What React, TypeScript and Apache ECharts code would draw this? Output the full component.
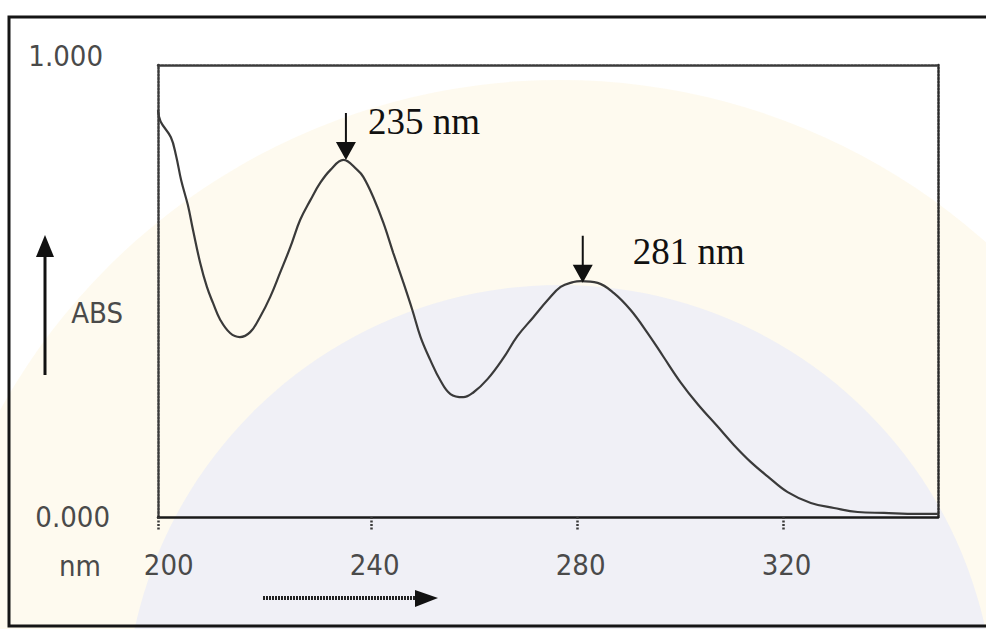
import React, { useEffect, useRef } from "react";
import * as echarts from "echarts";

// Wavelength (nm) and absorbance
const wavelengths = [198.5, 199, 201, 202, 203, 204.3, 205.3, 206.7, 208, 209.2, 210.6, 212.5, 214.4, 216.4, 218.3, 220.3, 222.2, 224.2, 226.1, 228.1, 230, 232, 234.5, 237.2, 238.4, 240.3, 242.3, 244.2, 246, 247.9, 249.5, 251.4, 253.3, 255.3, 257.8, 259.8, 262.5, 265.6, 268.3, 271.4, 274.2, 276.7, 279.2, 280.6, 283.9, 287, 290.3, 293.6, 296.7, 300, 303.3, 307.2, 310.3, 313.6, 316.9, 320.8, 325.3, 329.8, 334.4, 339.5, 346.1, 350];
const absorbance = [0.9, 0.875, 0.84, 0.8, 0.745, 0.69, 0.635, 0.562, 0.509, 0.473, 0.436, 0.407, 0.398, 0.409, 0.442, 0.487, 0.54, 0.597, 0.657, 0.701, 0.739, 0.768, 0.79, 0.768, 0.752, 0.708, 0.65, 0.584, 0.524, 0.458, 0.398, 0.347, 0.303, 0.272, 0.265, 0.276, 0.305, 0.352, 0.4, 0.442, 0.48, 0.509, 0.52, 0.522, 0.518, 0.496, 0.458, 0.407, 0.354, 0.298, 0.25, 0.2, 0.16, 0.122, 0.09, 0.055, 0.031, 0.02, 0.011, 0.009, 0.007, 0.007];

const peakNm = [235, 281];
const peakAbs = [0.79, 0.518];
const peakLabels = ["235 nm", "281 nm"];

const xTickLabels = [200, 240, 280, 320];
const xTickMarks = [198.5, 240, 280, 320];
const yTickLabels = [0, 1];

const PIXEL_FONT = "'Liberation Sans Narrow', 'DejaVu Sans Condensed', 'DejaVu Sans Mono', monospace";
const ARROW = "path://M9,0L11,0L11,29L20,29L10,47L0,29L9,29Z";

export default function App() {
  const ref = useRef<HTMLDivElement>(null);

  useEffect(() => {
    if (!ref.current) return;
    const chart = echarts.init(ref.current, undefined, { renderer: "svg" });
    const points = wavelengths.map((w, i) => [w, absorbance[i]]);
    const dotted = { color: "#3a3a3a", width: 2.5, type: [2, 1.5] as any };
    const labelFont = { fontFamily: PIXEL_FONT, fontSize: 29, color: "#4a4a4a" };

    const option: any = {
      animation: false,
      backgroundColor: "#ffffff",
      grid: { left: 158, top: 65, right: 48, bottom: 112, containLabel: false, outerBoundsMode: "none" },
      xAxis: [
        {
          type: "value",
          min: 198.5,
          max: 350,
          splitLine: { show: false },
          axisLine: { show: true, onZero: false, lineStyle: { color: "#1a1a1a", width: 2.5 } },
          axisTick: { show: true, length: 14, customValues: xTickMarks, lineStyle: dotted },
          axisLabel: {
            customValues: xTickLabels,
            margin: 33,
            padding: [0, 0, 0, 6],
            ...labelFont,
            formatter: (v: number) => String(v),
          },
        },
        {
          type: "value",
          position: "top",
          min: 198.5,
          max: 350,
          splitLine: { show: false },
          axisLine: { show: true, onZero: false, lineStyle: dotted },
          axisTick: { show: false },
          axisLabel: { show: false },
        },
      ],
      yAxis: [
        {
          type: "value",
          min: 0,
          max: 1,
          splitLine: { show: false },
          axisLine: { show: true, onZero: false, lineStyle: dotted },
          axisTick: { show: false },
          axisLabel: {
            customValues: yTickLabels,
            margin: 48,
            ...labelFont,
            formatter: (v: number) => (v === 0 ? "0.000" : "{t|1.000}"),
            rich: { t: { ...labelFont, padding: [0, 7, 18, 0] } },
          },
        },
        {
          type: "value",
          position: "right",
          min: 0,
          max: 1,
          splitLine: { show: false },
          axisLine: { show: true, onZero: false, lineStyle: { ...dotted, color: "#2a2a2a" } },
          axisTick: { show: false },
          axisLabel: { show: false },
        },
      ],
      series: [
        {
          type: "line",
          data: points,
          smooth: 0.4,
          showSymbol: false,
          symbol: "none",
          lineStyle: { color: "#3a3a3a", width: 2.2 },
          markPoint: {
            symbol: ARROW,
            symbolSize: [20, 47],
            symbolOffset: [0, "-50%"],
            symbolKeepAspect: false,
            itemStyle: { color: "#111" },
            data: [
              {
                name: peakLabels[0],
                coord: [peakNm[0], peakAbs[0]],
                label: { show: true, position: "right", distance: 12, offset: [0, -15], formatter: peakLabels[0] },
              },
              {
                name: peakLabels[1],
                coord: [peakNm[1], peakAbs[1]],
                label: { show: true, position: "right", distance: 40, offset: [0, -8], formatter: peakLabels[1] },
              },
            ],
            label: { fontFamily: "'Liberation Serif', 'DejaVu Serif', serif", fontSize: 37, color: "#111" },
          },
        },
      ],
      graphic: [
        { type: "circle", z: -10, silent: true, shape: { cx: 560, cy: 720, r: 640 }, style: { fill: "rgba(252,238,196,0.28)" } },
        { type: "circle", z: -9, silent: true, shape: { cx: 560, cy: 720, r: 435 }, style: { fill: "rgba(230,233,250,0.6)" } },
        { type: "rect", z: 100, silent: true, shape: { x: 9, y: 17, width: 995, height: 609 }, style: { fill: "none", stroke: "#151515", lineWidth: 3 } },
        { type: "line", z: 100, silent: true, shape: { x1: 45, y1: 252, x2: 45, y2: 375 }, style: { stroke: "#111", lineWidth: 3 } },
        { type: "polygon", z: 100, silent: true, shape: { points: [[36, 257], [45, 235], [54, 257]] }, style: { fill: "#111" } },
        { type: "line", z: 100, silent: true, shape: { x1: 263, y1: 598, x2: 418, y2: 598 }, style: { stroke: "#222", lineWidth: 4, lineDash: [2, 1] } },
        { type: "polygon", z: 100, silent: true, shape: { points: [[415, 590], [438, 598], [415, 607]] }, style: { fill: "#111" } },
        { type: "text", z: 100, silent: true, x: 123, y: 313, style: { text: "ABS", fill: "#4a4a4a", font: `29px ${PIXEL_FONT}`, align: "right", verticalAlign: "middle" } },
        { type: "text", z: 100, silent: true, x: 101, y: 566, style: { text: "nm", fill: "#4a4a4a", font: `29px ${PIXEL_FONT}`, align: "right", verticalAlign: "middle" } },
      ],
    };
    chart.setOption(option);
    return () => chart.dispose();
  }, []);

  return <div ref={ref} style={{ position: "fixed", left: 0, top: 0, width: 986, height: 629 }} />;
}
